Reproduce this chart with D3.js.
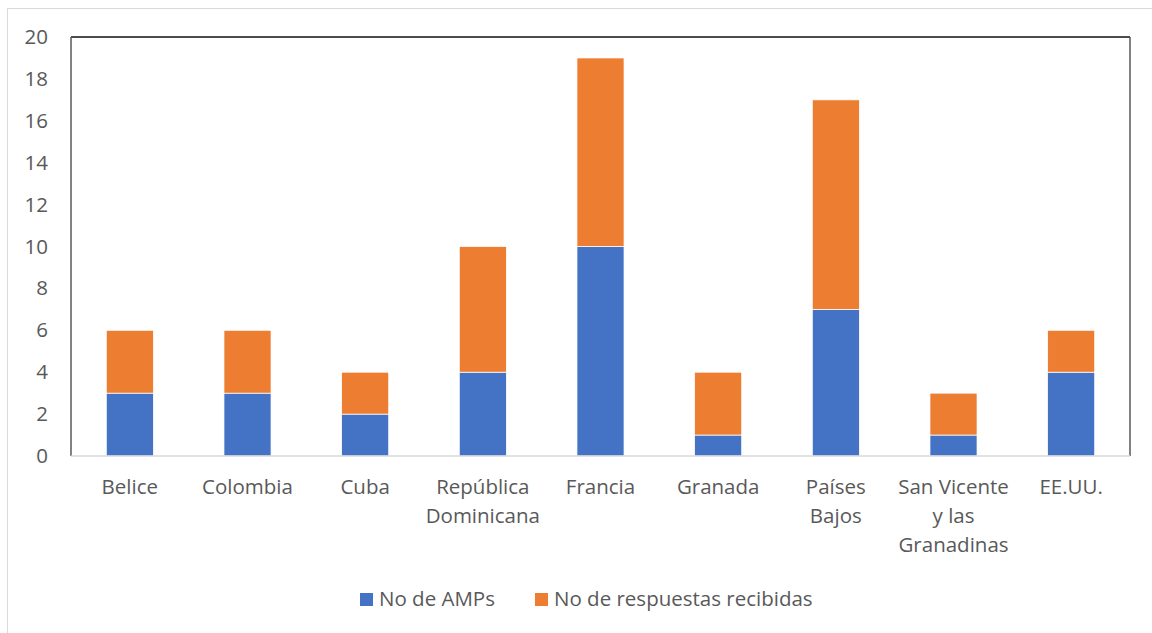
<!DOCTYPE html>
<html>
<head>
<meta charset="utf-8">
<script src="https://cdn.jsdelivr.net/npm/d3@7"></script>
<style>
  body { margin: 0; background: #fff; }
  text { font-family: "Open Sans", Lato, sans-serif; fill: #595959; }
</style>
</head>
<body>
<div id="chart"></div>
<script>
// categories (each one split into its label lines)
const categories = ['Belice', 'Colombia', 'Cuba', 'República Dominicana', 'Francia', 'Granada', 'Países Bajos', 'San Vicente y las Granadinas', 'EE.UU.'];
const labelLines = [['Belice'], ['Colombia'], ['Cuba'], ['República', 'Dominicana'], ['Francia'], ['Granada'], ['Países', 'Bajos'], ['San Vicente', 'y las', 'Granadinas'], ['EE.UU.']];
const amps = [3, 3, 2, 4, 10, 1, 7, 1, 4];
const respuestas = [3, 3, 2, 6, 9, 3, 10, 2, 2];
const seriesNames = ['No de AMPs', 'No de respuestas recibidas'];
const colors = ['#4472c4', '#ed7d31'];
const yTicks = [0, 2, 4, 6, 8, 10, 12, 14, 16, 18, 20];

const width = 1152;
const height = 633;
const margin = { top: 37, right: 22, bottom: 177, left: 71 };
const fontSize = 20.5;

const svg = d3.select('#chart')
    .append('svg')
    .attr('width', width)
    .attr('height', height);

// outer chart frame
svg.append('rect')
    .attr('x', 7.5).attr('y', 8.5)
    .attr('width', width).attr('height', height)
    .attr('fill', 'none')
    .attr('stroke', '#d9d9d9');

const x = d3.scaleBand()
    .domain(categories)
    .range([margin.left, width - margin.right])
    .paddingInner(0.6)
    .paddingOuter(0.3);

const y = d3.scaleLinear()
    .domain([0, 20])
    .range([height - margin.bottom, margin.top]);

const rows = categories.map((c, i) => ({ cat: c, amps: amps[i], resp: respuestas[i] }));
const stack = d3.stack().keys(['amps', 'resp'])(rows);

svg.append('g')
    .selectAll('g')
    .data(stack)
    .join('g')
    .attr('fill', (d, i) => colors[i])
    .selectAll('rect')
    .data(d => d)
    .join('rect')
    .attr('x', d => x(d.data.cat))
    .attr('y', d => y(d[1]))
    .attr('width', x.bandwidth())
    .attr('height', d => y(d[0]) - y(d[1]))
    .attr('stroke', '#fff')
    .attr('stroke-width', 0.75);

// plot area border
const x0 = margin.left, x1 = width - margin.right;
const yTop = y(20), yBot = y(0);
svg.append('line').attr('x1', x0).attr('x2', x1).attr('y1', yTop).attr('y2', yTop)
    .attr('stroke', '#111').attr('stroke-width', 1.5);
svg.append('line').attr('x1', x0).attr('x2', x0).attr('y1', yTop).attr('y2', yBot)
    .attr('stroke', '#595959').attr('stroke-width', 1.5);
svg.append('line').attr('x1', x1).attr('x2', x1).attr('y1', yTop).attr('y2', yBot)
    .attr('stroke', '#595959').attr('stroke-width', 1.5);
svg.append('line').attr('x1', x0).attr('x2', x1).attr('y1', yBot).attr('y2', yBot)
    .attr('stroke', '#d9d9d9').attr('stroke-width', 1.5);

// y axis labels
const yAxis = svg.append('g')
    .attr('transform', 'translate(' + (margin.left - 23) + ',0)')
    .call(d3.axisLeft(y).tickValues(yTicks).tickSize(0).tickPadding(0));
yAxis.select('.domain').remove();
yAxis.selectAll('text')
    .attr('font-size', fontSize)
    .attr('font-family', null)
    .attr('fill', null);

// x axis labels
const xLabels = svg.append('g')
    .selectAll('text')
    .data(categories)
    .join('text')
    .attr('x', d => x(d) + x.bandwidth() / 2)
    .attr('y', yBot + 38)
    .attr('text-anchor', 'middle')
    .attr('font-size', fontSize);
xLabels.selectAll('tspan')
    .data((d, i) => labelLines[i])
    .join('tspan')
    .attr('x', function() { return this.parentNode.getAttribute('x'); })
    .attr('dy', (d, i) => i === 0 ? 0 : 29)
    .text(d => d);

// legend
const legend = svg.append('g');
const legendX = [360, 535];
seriesNames.forEach((name, i) => {
    legend.append('rect')
        .attr('x', legendX[i]).attr('y', 593)
        .attr('width', 13).attr('height', 13)
        .attr('fill', colors[i]);
    legend.append('text')
        .attr('x', legendX[i] + 19).attr('y', 606)
        .attr('font-size', fontSize)
        .text(name);
});
</script>
</body>
</html>
